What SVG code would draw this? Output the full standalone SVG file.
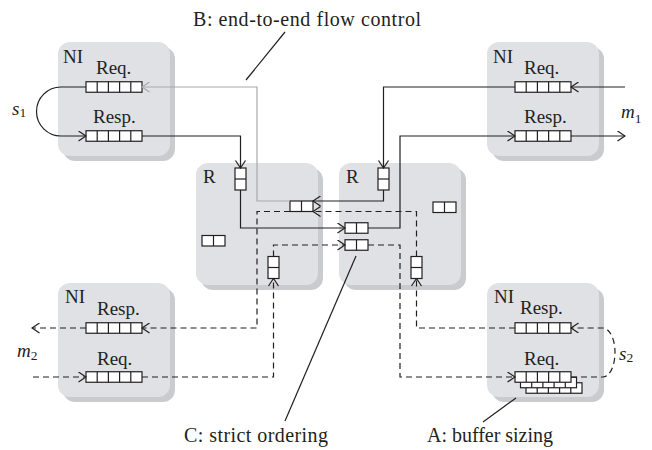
<svg xmlns="http://www.w3.org/2000/svg" width="652" height="450" viewBox="0 0 652 450">
<style>
.t{font-family:"Liberation Serif","DejaVu Serif",serif;font-size:19px;fill:#231f20}
.big{font-size:20px}
.i{font-style:italic}
.sub{font-size:13.5px}
.ln{fill:none;stroke:#231f20;stroke-width:1.2}
.ds{stroke-dasharray:6 4}
.gr{fill:none;stroke:#a8aaad;stroke-width:1.2}
</style>
<defs>
<marker id="ar" viewBox="-8 -5.5 9 11" refX="0" refY="0" markerWidth="9" markerHeight="11" markerUnits="userSpaceOnUse" orient="auto"><path d="M-7.5,-5 L0,0 L-7.5,5" fill="none" stroke="#231f20" stroke-width="1.2" stroke-dasharray="none"/></marker>
<marker id="ag" viewBox="-8 -5.5 9 11" refX="0" refY="0" markerWidth="9" markerHeight="11" markerUnits="userSpaceOnUse" orient="auto"><path d="M-7.5,-5 L0,0 L-7.5,5" fill="none" stroke="#a8aaad" stroke-width="1.2"/></marker>
<g id="q5"><rect width="56" height="10.5" fill="#fff" stroke="#231f20" stroke-width="1.2"/><path d="M11.2,0V10.5M22.4,0V10.5M33.6,0V10.5M44.8,0V10.5" fill="none" stroke="#231f20" stroke-width="1.2"/></g>
<g id="q2h"><rect width="23" height="10.5" fill="#fff" stroke="#231f20" stroke-width="1.2"/><path d="M11.5,0V10.5" fill="none" stroke="#231f20" stroke-width="1.2"/></g>
<g id="q2v"><rect width="11" height="22" fill="#fff" stroke="#231f20" stroke-width="1.2"/><path d="M0,11H11" fill="none" stroke="#231f20" stroke-width="1.2"/></g>
<g id="nib"><rect x="5" y="5" width="112" height="114" rx="12" fill="#c9cbcf"/><rect width="112" height="114" rx="12" fill="#dfe1e5"/></g>
<g id="rbx"><rect x="5" y="5" width="122" height="122" rx="12" fill="#c9cbcf"/><rect width="122" height="122" rx="12" fill="#dfe1e5"/></g>
</defs>

<g id="ni-top-left">
<use href="#nib" x="58" y="42"/>
<text class="t" x="63" y="63">NI</text>
<text class="t" x="96" y="74">Req.</text>
<text class="t" x="93" y="123">Resp.</text>
<use href="#q5" x="86" y="81.75"/>
<use href="#q5" x="86" y="130.75"/>
</g>
<g id="ni-top-right">
<use href="#nib" x="487" y="42"/>
<text class="t" x="493" y="63">NI</text>
<text class="t" x="524" y="74">Req.</text>
<text class="t" x="524" y="123">Resp.</text>
<use href="#q5" x="515" y="81.75"/>
<use href="#q5" x="515" y="130.75"/>
</g>
<g id="ni-bottom-left">
<use href="#nib" x="58" y="283"/>
<text class="t" x="65" y="303">NI</text>
<text class="t" x="97" y="315">Resp.</text>
<text class="t" x="97" y="365">Req.</text>
<use href="#q5" x="86" y="322.75"/>
<use href="#q5" x="86" y="371.75"/>
</g>
<g id="ni-bottom-right">
<use href="#nib" x="487" y="283"/>
<text class="t" x="494" y="303">NI</text>
<text class="t" x="520" y="314">Resp.</text>
<text class="t" x="524" y="365">Req.</text>
<use href="#q5" x="515" y="322.75"/>
<use href="#q5" x="526" y="382.75"/>
<use href="#q5" x="520.5" y="377.25"/>
<use href="#q5" x="515" y="371.75"/>
</g>
<g id="router-left">
<use href="#rbx" x="196" y="163"/>
<text class="t" x="203" y="183">R</text>
<use href="#q2v" x="235" y="168"/>
<use href="#q2v" x="268" y="256.5"/>
<use href="#q2h" x="290" y="201"/>
<use href="#q2h" x="202" y="235.5"/>
</g>
<g id="router-right">
<use href="#rbx" x="339" y="163"/>
<text class="t" x="346" y="183">R</text>
<use href="#q2v" x="378" y="168"/>
<use href="#q2v" x="411" y="256.5"/>
<use href="#q2h" x="345" y="222.75"/>
<use href="#q2h" x="345" y="239.75"/>
<use href="#q2h" x="433" y="202"/>
</g>

<g id="connectors">
<path class="gr" d="M290,201H257V87H142" marker-end="url(#ag)"/>
<path class="ln" d="M86,87H61A24.5,24.5 0 0 0 61,136H86" marker-end="url(#ar)"/>
<path class="ln" d="M142,136H240.5V168" marker-end="url(#ar)"/>
<path class="ln" d="M240.5,190V228H345" marker-end="url(#ar)"/>
<path class="ln" d="M368,228H400V136H515" marker-end="url(#ar)"/>
<path class="ln" d="M571,136H625" marker-end="url(#ar)"/>
<path class="ln" d="M625,87H571" marker-end="url(#ar)"/>
<path class="ln" d="M515,87H383.5V168" marker-end="url(#ar)"/>
<path class="ln" d="M383.5,190V201H313" marker-end="url(#ar)"/>
<path class="ln ds" d="M33,377H86" marker-end="url(#ar)"/>
<path class="ln ds" d="M142,377H273.5V278.5" marker-end="url(#ar)"/>
<path class="ln ds" d="M273.5,256.5V245H345" marker-end="url(#ar)"/>
<path class="ln ds" d="M368,245H400V377H515" marker-end="url(#ar)"/>
<path class="ln ds" d="M571,377H603A12,24.5 0 0 0 603,328H571" marker-end="url(#ar)"/>
<path class="ln ds" d="M515,328H416.5V278.5" marker-end="url(#ar)"/>
<path class="ln ds" d="M416.5,256.5V211.5H313" marker-end="url(#ar)"/>
<path class="ln ds" d="M290,211.5H257V328H142" marker-end="url(#ar)"/>
<path class="ln ds" d="M86,328H32" marker-end="url(#ar)"/>
</g>

<g id="labels">
<text class="t i" x="12" y="115">s<tspan class="sub" font-style="normal" dy="2">1</tspan></text>
<text class="t i" x="621" y="118">m<tspan class="sub" font-style="normal" dy="5">1</tspan></text>
<text class="t i" x="17" y="357">m<tspan class="sub" font-style="normal" dy="3">2</tspan></text>
<text class="t i" x="619" y="360">s<tspan class="sub" font-style="normal" dy="2">2</tspan></text>
<path class="ln" d="M246,80L285,32"/>
<text class="t big" x="193" y="26" textLength="228">B: end-to-end flow control</text>
<path class="ln" d="M356,256L285,421"/>
<text class="t big" x="184" y="442" textLength="144">C: strict ordering</text>
<path class="ln" d="M516,398L483,422"/>
<text class="t big" x="427" y="442" textLength="126">A: buffer sizing</text>
</g>
</svg>
